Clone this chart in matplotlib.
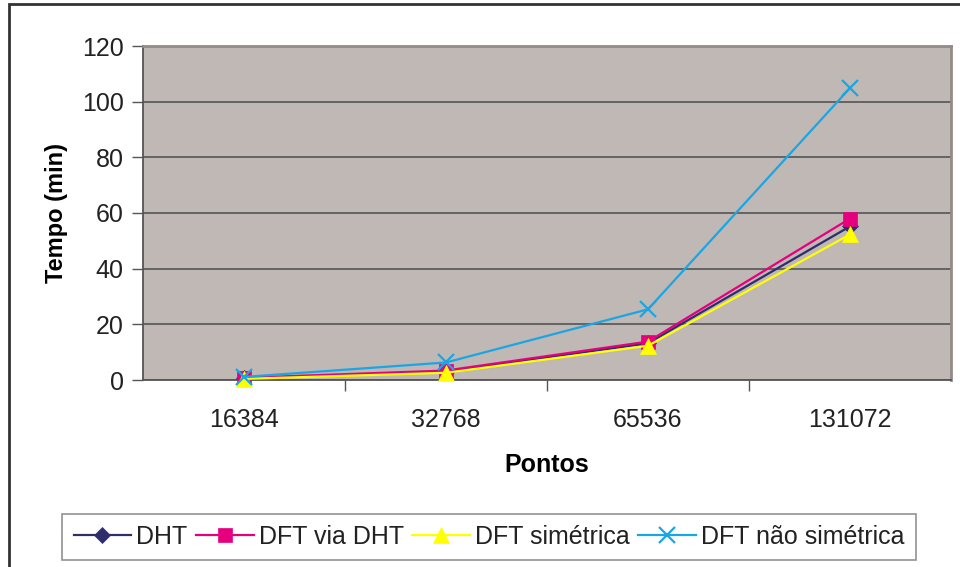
import matplotlib
matplotlib.use("Agg")
import matplotlib.pyplot as plt
from matplotlib.patches import Rectangle

plt.rcParams['font.family'] = ['Liberation Sans', 'DejaVu Sans']

categories = ["16384", "32768", "65536", "131072"]
dht = [0.6, 3.0, 13.2, 55.2]
dft_via_dht = [0.8, 3.4, 13.8, 58.0]
dft_simetrica = [0.4, 2.6, 12.3, 52.3]
dft_nao_simetrica = [1.1, 6.3, 25.4, 104.9]
y_ticks = [0, 20, 40, 60, 80, 100, 120]

W, H = 960, 567
fig = plt.figure(figsize=(W / 100, H / 100), dpi=100)
fig.patch.set_facecolor("white")

# plot area in pixel coordinates
left, right, top, bottom = 143, 951, 46, 380
ax = fig.add_axes([left / W, 1 - bottom / H, (right - left) / W, (bottom - top) / H])
ax.set_facecolor("#C0B8B5")

x = list(range(len(categories)))
series = [
    ("DHT", dht, "#2E2E6E", "D", 8),
    ("DFT via DHT", dft_via_dht, "#E6007E", "s", 10),
    ("DFT simétrica", dft_simetrica, "#FFFF00", "^", 11),
    ("DFT não simétrica", dft_nao_simetrica, "#1AA6E4", "x", 11),
]
handles = []
for name, vals, color, marker, ms in series:
    h, = ax.plot(x, vals, color=color, lw=1.6, marker=marker, markersize=ms,
                 markeredgewidth=1.6 if marker == "x" else 0.5,
                 markeredgecolor=color, markerfacecolor=color, label=name,
                 clip_on=False, zorder=3)
    handles.append(h)

ax.set_xlim(-0.5, len(categories) - 0.5)
ax.set_ylim(0, 120)
ax.set_yticks(y_ticks)
ax.set_yticklabels([str(v) for v in y_ticks], fontsize=18, color="#222222")
ax.set_xticks(x)
ax.set_xticklabels(categories, fontsize=18, color="#222222")
ax.tick_params(axis="x", length=0, pad=20)
ax.set_xticks([i + 0.5 for i in range(len(categories) - 1)], minor=True)
ax.tick_params(axis="x", which="minor", length=8, width=1, color="#555555")
ax.tick_params(axis="y", length=8, width=1, color="#555555", pad=6)

ax.grid(axis="y", color="#555555", lw=1.2, zorder=1)
ax.set_axisbelow(True)
for side in ["top", "right"]:
    ax.spines[side].set_color("#948B88")
    ax.spines[side].set_linewidth(2)
for side in ["left", "bottom"]:
    ax.spines[side].set_color("#555555")
    ax.spines[side].set_linewidth(1.3)

ax.set_ylabel("Tempo (min)", fontsize=17, fontweight="bold", labelpad=10)
ax.set_xlabel("Pontos", fontsize=18, fontweight="bold", labelpad=15)

leg = fig.legend(handles=handles, loc="center", ncol=4,
                 bbox_to_anchor=(489 / W, 1 - 537 / H),
                 fontsize=18, frameon=True, fancybox=False,
                 handlelength=2.3, handletextpad=0.2, columnspacing=0.35,
                 borderpad=0.45, borderaxespad=0)
leg.get_frame().set_edgecolor("#777777")
leg.get_frame().set_linewidth(1.2)
for t in leg.get_texts():
    t.set_color("#222222")

# chart border
fig.patches.append(Rectangle((9 / W, -0.1), 2, 1.1 - 4 / H, transform=fig.transFigure,
                             fill=False, edgecolor="#333333", lw=2))

fig.savefig("out.png", dpi=100)
